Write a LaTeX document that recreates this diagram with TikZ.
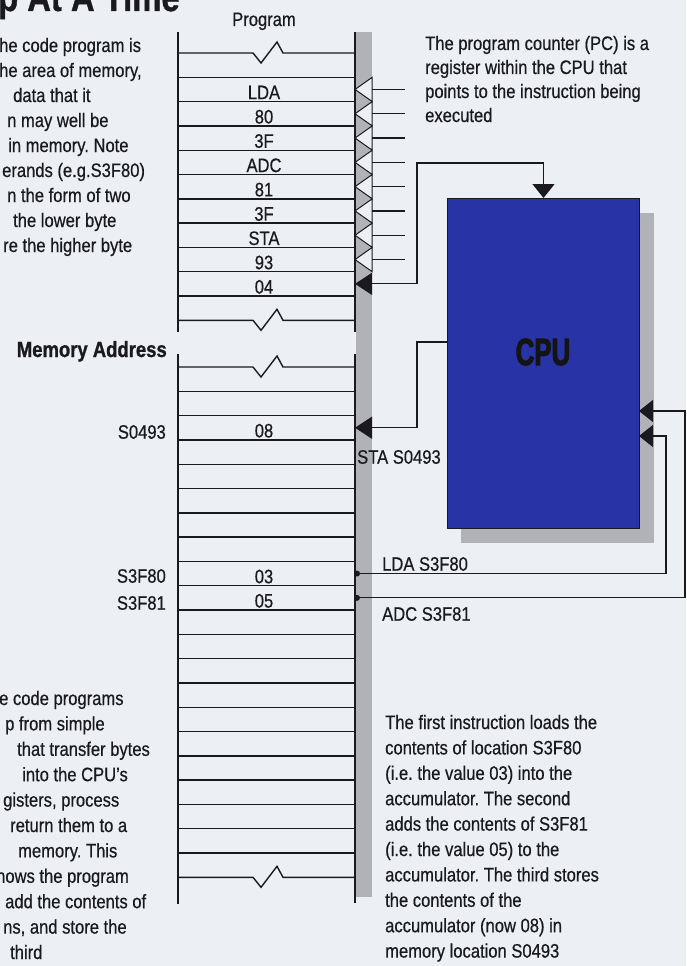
\documentclass[tikz,border=0pt]{standalone}
\usepackage{fontspec}
\setmainfont{Liberation Sans}[FakeStretch=0.85,FakeBold=0.5]
\newfontfamily\boldcond{Liberation Sans}[FakeStretch=0.84,FakeBold=1]
\newfontfamily\cpufont{Liberation Sans}[FakeStretch=0.68,FakeBold=2.5]
\usetikzlibrary{arrows.meta,calc}
\definecolor{paper}{RGB}{236,240,245}
\definecolor{ink}{RGB}{25,25,30}
\definecolor{cpublue}{RGB}{40,52,165}
\definecolor{stip}{RGB}{176,178,184}
\frenchspacing
\tikzset{
  txt/.style={font=\fontsize{19.5}{22}\selectfont, text=ink, inner sep=0pt},
  lab/.style={txt, anchor=base west},
  col/.style={line width=2.4pt, draw=ink},
  rowl/.style={line width=1.4pt, draw=ink},
  conn/.style={line width=1.2pt, draw=ink},
  headto/.style={-{Triangle[length=14pt,width=22pt]}},
  headmem/.style={-{Triangle[length=17pt,width=22pt]}},
  dotc/.style={circle, fill=ink, inner sep=0pt, minimum size=6pt},
}
\begin{document}
\begin{tikzpicture}[x=1pt,y=-1pt]
\fill[paper] (0,0) rectangle (686,966);
\useasboundingbox (0,0) rectangle (686,966);

% title fragment
\node[anchor=base west, font=\boldcond\bfseries\fontsize{39}{39}\selectfont, text=ink, inner sep=0pt] (title) at (-2,11) {p At A Time};

% stippled strip
\fill[stip] (356,32) rectangle (372,897);

% memory column verticals
\draw[col] (178,32) -- (178,332);
\draw[col] (355,32) -- (355,332);
\draw[col] (178,354) -- (178,904);
\draw[col] (355,354) -- (355,903);

% row lines
\foreach \k in {1,...,10} \draw[rowl] (178,{53+24.3*\k}) -- (355,{53+24.3*\k});
\foreach \k in {1,...,20} \draw[rowl] (178,{367+24.3*\k}) -- (355,{367+24.3*\k});
% break lines
\foreach \y in {53,320.3,367,877.3}
  \draw[rowl] (178,\y) -- (253,\y) -- (261,{\y+10}) -- (277,{\y-11}) -- (283,\y) -- (355,\y);

% program label and cells
\node[txt, anchor=base] (prog) at (264,26) {Program};
\foreach \t [count=\i] in {LDA,80,3F,ADC,81,3F,STA,93,04}
  \node[txt] (p\i) at (264,{53+24.3*(\i+0.5)+3}) {\t};

% open pointer triangles and stubs
\foreach \i in {1,...,8} {
  \pgfmathsetmacro\c{53+24.3*(\i+0.5)}
  \draw[line width=1pt, draw=ink, fill=paper] (355,\c) -- (372,{\c-12}) -- (372,{\c+12}) -- cycle;
  \coordinate (s\i) at (405,\c);
  \draw[conn] (372,\c) -- (s\i);
}

% memory address side
\node[anchor=base east, font=\boldcond\bfseries\fontsize{22}{22}\selectfont, text=ink, inner sep=0pt] (memaddr) at (167,357) {Memory Address};
\node[txt, anchor=east] (a1) at (166,432) {S0493};
\node[txt, anchor=east] (a2) at (166,576) {S3F80};
\node[txt, anchor=east] (a3) at (166,603) {S3F81};
\node[txt] (v08) at (264,{367+24.3*2.5+3}) {08};
\node[txt] (v03) at (264,{367+24.3*8.5+3}) {03};
\node[txt] (v05) at (264,{367+24.3*9.5+3}) {05};

% CPU
\fill[stip] (461,213) rectangle (654,543);
\node[draw=ink, line width=1pt, fill=cpublue, minimum width=192pt, minimum height=330pt, inner sep=0pt, anchor=north west] (cpu) at (447,198) {};
\node[font=\cpufont\bfseries\fontsize{38}{38}\selectfont, text=black!92, inner sep=0pt] (cpulab) at (543,352) {CPU};

% program counter connector
\coordinate (pcrow) at (355,{53+24.3*9.5});
\coordinate (pcbend) at (417,163);
\draw[conn, {Triangle[length=17pt,width=22pt]}-{Triangle[length=14pt,width=22pt]}] (pcrow) -| (pcbend) -| (cpu.north);

% STA connector
\coordinate (stabend) at (417,342);
\coordinate (m08) at (355,{367+24.3*2.5});
\draw[conn, headmem] (cpu.west |- stabend) -- (stabend) |- (m08);
\node[txt, anchor=west] (stalab) at (357,457) {STA S0493};

% LDA / ADC connectors
\node[dotc] (dL) at (357,{367+24.3*8.5}) {};
\node[dotc] (dA) at (357,{367+24.3*9.5}) {};
\coordinate (cin1) at (639,411);
\coordinate (cin2) at (639,436);
\draw[conn, headto] (dL.center) -| ($(cin2)+(27,0)$) -- (cin2);
\draw[conn, headto] (dA.center) -| ($(cin1)+(46,0)$) -- (cin1);
\node[txt, anchor=west] (ldalab) at (382,564) {LDA S3F80};
\node[txt, anchor=west] (adclab) at (382,614) {ADC S3F81};

% top right text
\node[lab] (pc1) at (425,50) {The program counter (PC) is a};
\node[lab] (pc2) at (425,74) {register within the CPU that};
\node[lab] (pc3) at (425,98) {points to the instruction being};
\node[lab] (pc4) at (425,122) {executed};

% top left text fragments
\node[lab] (l1) at (-1,52) {he code program is};
\node[lab] (l2) at (-1,77) {he area of memory,};
\node[lab] (l3) at (13,102) {data that it};
\node[lab] (l4) at (7,127) {n may well be};
\node[lab] (l5) at (8,152) {in memory. Note};
\node[lab] (l6) at (2,177) {erands (e.g.S3F80)};
\node[lab] (l7) at (7,202) {n the form of two};
\node[lab] (l8) at (13,227) {the lower byte};
\node[lab] (l9) at (3,252) {re the higher byte};

% bottom left text fragments
\node[lab] (b1) at (-1,705) {e code programs};
\node[lab] (b2) at (5,730.4) {p from simple};
\node[lab] (b3) at (17,755.8) {that transfer bytes};
\node[lab] (b4) at (22,781.2) {into the CPU's};
\node[lab] (b5) at (3,806.6) {gisters, process};
\node[lab] (b6) at (10,832) {return them to a};
\node[lab] (b7) at (18,857.4) {memory. This};
\node[lab] (b8) at (-4,882.8) {hows the program};
\node[lab] (b9) at (5,908.2) {add the contents of};
\node[lab] (b10) at (3,933.6) {ns, and store the};
\node[lab] (b11) at (10,959) {third};

% bottom right text
\node[lab] (r1) at (385,729) {The first instruction loads the};
\node[lab] (r2) at (385,754.4) {contents of location S3F80};
\node[lab] (r3) at (385,779.8) {(i.e. the value 03) into the};
\node[lab] (r4) at (385,805.2) {accumulator. The second};
\node[lab] (r5) at (385,830.6) {adds the contents of S3F81};
\node[lab] (r6) at (385,856) {(i.e. the value 05) to the};
\node[lab] (r7) at (385,881.4) {accumulator. The third stores};
\node[lab] (r8) at (385,906.8) {the contents of the};
\node[lab] (r9) at (385,932.2) {accumulator (now 08) in};
\node[lab] (r10) at (385,957.6) {memory location S0493};
\end{tikzpicture}
\end{document}
